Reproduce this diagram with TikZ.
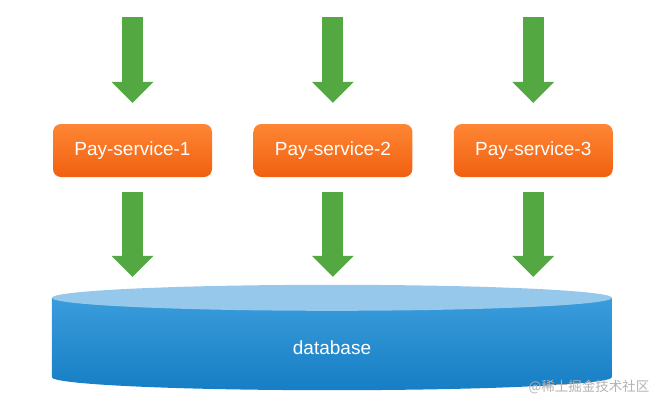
\documentclass[tikz,border=0pt]{standalone}
\usepackage{fontspec}
\setmainfont{Liberation Sans}
\newfontfamily\cjkfont{Noto Sans CJK SC}
\usetikzlibrary{arrows.meta, positioning, calc}
\definecolor{FlowGreen}{RGB}{84, 168, 66}
\definecolor{PayOrangeTop}{RGB}{255, 134, 52}
\definecolor{PayOrangeBot}{RGB}{240, 96, 16}
\definecolor{DbTop}{RGB}{150, 200, 236}
\definecolor{DbSideTop}{RGB}{58, 156, 219}
\definecolor{DbSideBot}{RGB}{22, 126, 196}
\definecolor{MarkGray}{RGB}{178, 178, 178}

\begin{document}
\begin{tikzpicture}[
    x=1pt, y=-1pt,
    svc/.style={rectangle, rounded corners=8pt, top color=PayOrangeTop, bottom color=PayOrangeBot, draw=none, minimum width=159pt, minimum height=53pt, text=white, font=\fontsize{19}{21}\selectfont},
    dbbody/.style={rectangle, minimum width=560pt, minimum height=105pt, inner sep=0pt},
    flow/.style={draw=FlowGreen, line width=21pt, -{Triangle[length=21pt, width=42pt, line width=0pt]}},
    watermark/.style={text=MarkGray, font=\cjkfont\fontsize{13.5}{15}\selectfont}
]
    \useasboundingbox (0,0) rectangle (665,408);

    % Dienste
    \node[svc] (pay1) at (132.5,150.5) {Pay-service-1};
    \node[svc, right=41pt of pay1] (pay2) {Pay-service-2};
    \node[svc, right=41pt of pay2] (pay3) {Pay-service-3};

    % Datenbank
    \node[dbbody] (db) at (332,337.5) {};
    \shade[top color=DbSideTop, bottom color=DbSideBot] ($(db.north west)+(0,13)$) -- ($(db.south west)+(0,-13)$) arc[start angle=180, end angle=360, x radius=280pt, y radius=13pt] -- ($(db.north east)+(0,13)$) -- cycle;
    \fill[DbTop] ($(db.north)+(0,13)$) ellipse[x radius=280pt, y radius=13pt];
    \node[text=white, font=\fontsize{19}{21}\selectfont] (dbname) at ($(db.center)+(0,10)$) {database};

    % Anfragen
    \foreach \i in {1,2,3} {
        \coordinate[above=107pt of pay\i] (in\i);
        \draw[flow, shorten >=21pt] (in\i) -- (pay\i);
        \draw[flow, shorten <=15pt, shorten >=8pt] (pay\i.south) -- (pay\i.south |- db.north);
    }

    \node[watermark, anchor=east] (wm) at (653,387) {@稀土掘金技术社区};
\end{tikzpicture}
\end{document}
